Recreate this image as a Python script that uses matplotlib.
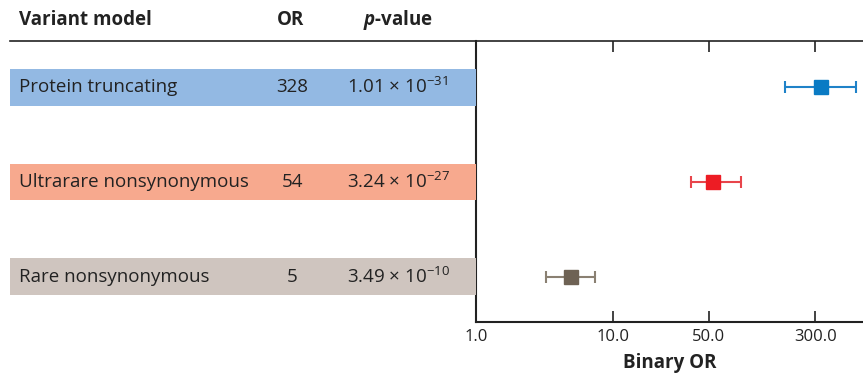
import matplotlib
matplotlib.use("Agg")
import matplotlib.pyplot as plt
from matplotlib.lines import Line2D

plt.rcParams['font.family'] = ['Open Sans', 'DejaVu Sans']
plt.rcParams['mathtext.fontset'] = 'custom'
plt.rcParams['mathtext.rm'] = 'Open Sans'
plt.rcParams['mathtext.it'] = 'Open Sans:italic'
plt.rcParams['mathtext.bf'] = 'Open Sans:bold'
plt.rcParams['mathtext.bfit'] = 'Open Sans:italic:bold'

# daten
models = ["Protein truncating", "Ultrarare nonsynonymous", "Rare nonsynonymous"]
or_values = [328, 54, 5]
or_est = [328, 54, 4.96]
ci_low = [180, 37, 3.24]
ci_high = [594, 86, 7.39]
p_mant = ["1.01", "3.24", "3.49"]
p_exp = ["-31", "-27", "-10"]
xticks = [1.0, 10.0, 50.0, 300.0]
xticklabels = ["1.0", "10.0", "50.0", "300.0"]

band_colors = ["#93b9e3", "#f7a98e", "#cfc5bf"]
marker_colors = ["#0a7bc4", "#ed1c24", "#6e6254"]
line_colors = ["#1f82c8", "#e8454b", "#8a8072"]

ypos = [2, 1, 0]
ylim = (-0.48, 2.49)
txt = '#222222'

W, H = 863, 375
fig = plt.figure(figsize=(W / 100, H / 100), dpi=100)

# forest plot axes
ax = fig.add_axes([476 / W, 1 - 322 / H, (W - 476) / W, (322 - 41) / H])
ax.set_xscale('log')
ax.set_xlim(1.0, 668)
ax.set_ylim(*ylim)
for i in range(3):
    ax.errorbar(or_est[i], ypos[i],
                xerr=[[or_est[i] - ci_low[i]], [ci_high[i] - or_est[i]]],
                fmt='none', ecolor=line_colors[i], elinewidth=1.5,
                capsize=4.5, capthick=1.5)
    ax.plot(or_est[i], ypos[i], marker='s', ms=10.5, color=marker_colors[i],
            linestyle='none')
ax.set_xticks(xticks)
ax.set_xticklabels(xticklabels)
ax.xaxis.set_minor_locator(plt.NullLocator())
ax.tick_params(axis='x', which='major', direction='in', length=8, width=1.2,
               top=True, labelsize=12, pad=5, colors=txt, labelcolor=txt)
ax.set_yticks([])
ax.spines['right'].set_visible(False)
ax.spines['top'].set_visible(False)
for s in ['left', 'bottom']:
    ax.spines[s].set_linewidth(1.5)
    ax.spines[s].set_color(txt)
ax.set_xlabel("Binary OR", fontsize=13.5, fontweight='bold', labelpad=6,
              color=txt)

# tabelle links
tab = fig.add_axes([10 / W, 1 - 322 / H, (476 - 10) / W, (322 - 41) / H])
tab.set_xlim(10, 476)
tab.set_ylim(*ylim)
tab.axis('off')
tab.barh(ypos, 466, left=10, height=0.39, color=band_colors)
for i in range(3):
    tab.text(19, ypos[i], models[i], fontsize=13.5, va='center', ha='left',
             color=txt)
    tab.text(292, ypos[i], str(or_values[i]), fontsize=13.5, va='center',
             ha='center', color=txt)
    tab.text(347, ypos[i],
             "%s \u00d7 10$^{%s}$" % (p_mant[i], p_exp[i].replace('-', '\u2212')),
             fontsize=13.5, va='center', ha='left', color=txt)

# header
fig.text(19 / W, 1 - 20 / H, "Variant model", fontsize=13.5, fontweight='bold',
         va='center', ha='left', color=txt)
fig.text(291 / W, 1 - 20 / H, "OR", fontsize=13.5, fontweight='bold',
         va='center', ha='center', color=txt)
fig.text(398 / W, 1 - 20 / H, r"$\mathbfit{p}$-value", fontsize=13.5,
         fontweight='bold', va='center', ha='center', color=txt)
fig.add_artist(Line2D([10 / W, 1.0], [1 - 41 / H, 1 - 41 / H],
                      transform=fig.transFigure, color=txt, lw=1.2))

fig.savefig("out.png", dpi=100)
